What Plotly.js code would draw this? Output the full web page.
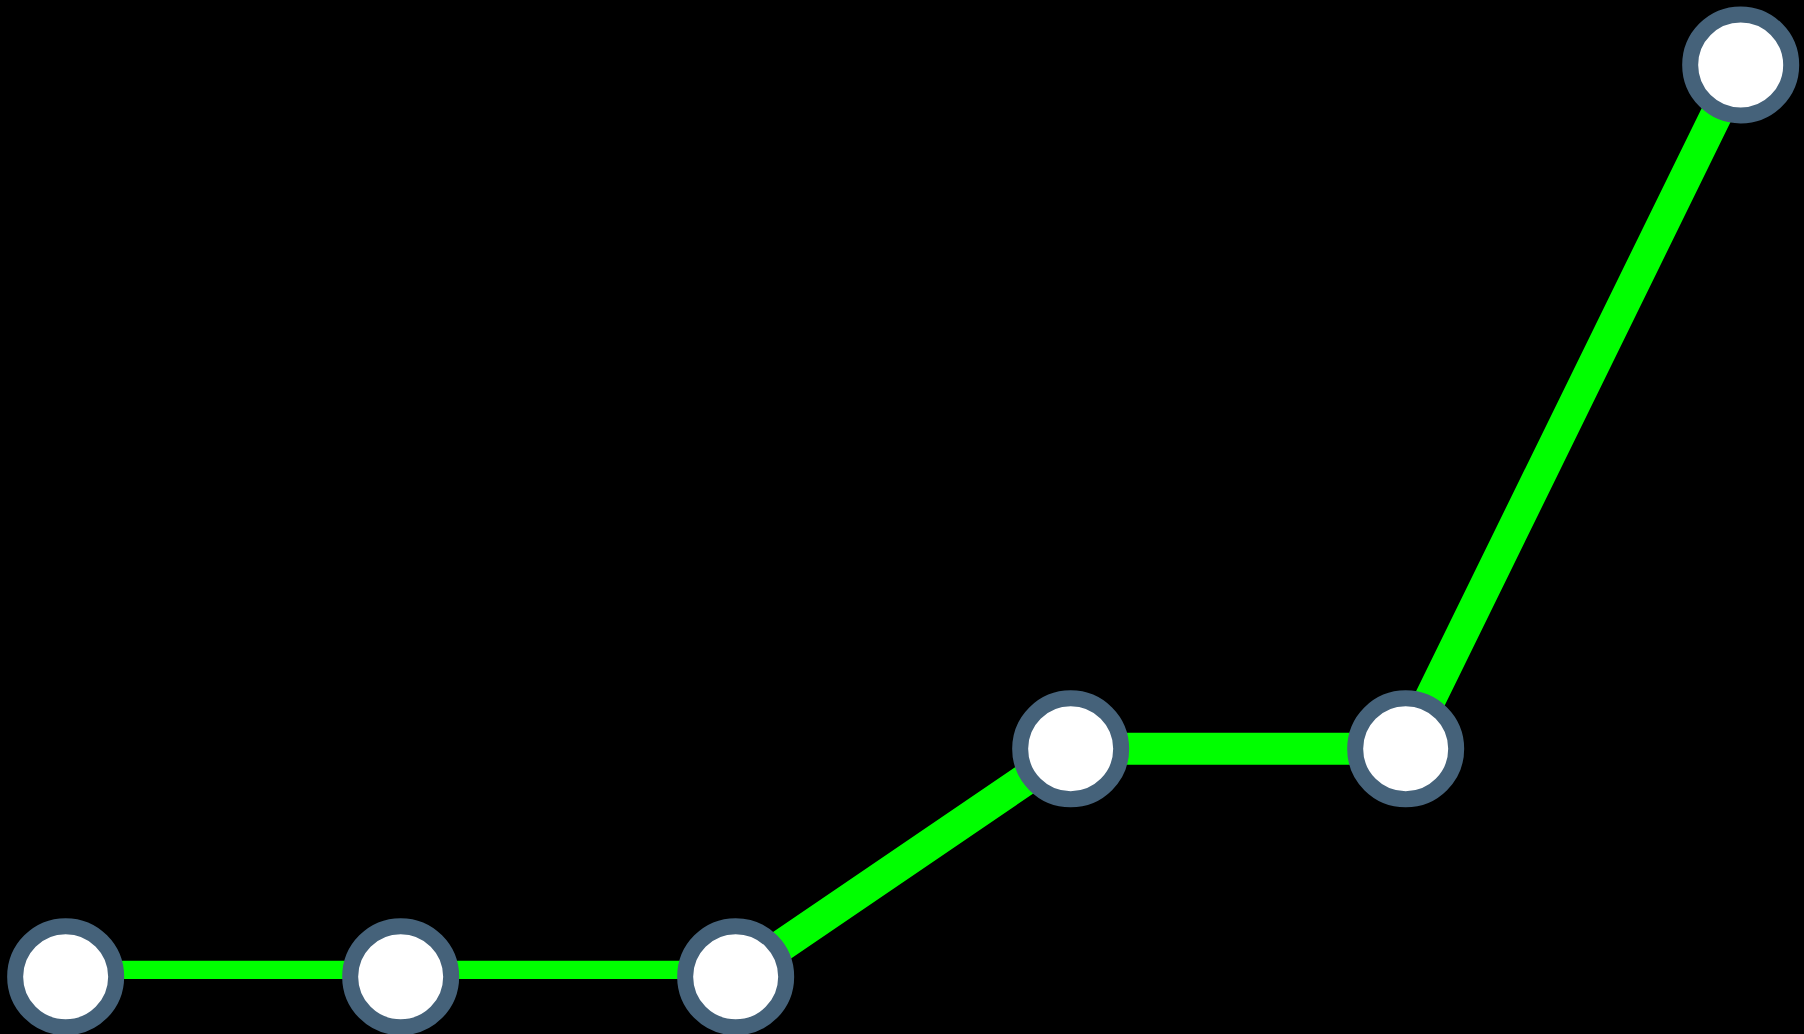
<!DOCTYPE html>
<html>
<head>
<meta charset="utf-8">
<script src="https://cdn.plot.ly/plotly-3.0.1.min.js"></script>
<style>
  html, body { margin: 0; padding: 0; background: #000; }
  #chart { width: 1804px; height: 1034px; }
</style>
</head>
<body>
<div id="chart"></div>
<script>
// data
const steps = [0, 1, 2, 3, 4, 5];
const values = [10, 10, 10, 20, 20, 50];

const lineColor = '#00ff00';
const markerFill = '#ffffff';
const markerEdge = '#45627a';

const trace = {
  x: steps,
  y: values,
  type: 'scatter',
  mode: 'lines+markers',
  cliponaxis: false,
  line: { color: lineColor, width: 32 },
  marker: {
    size: 101,
    color: markerFill,
    line: { color: markerEdge, width: 16 }
  },
  hoverinfo: 'none'
};

const hidden = {
  showgrid: false,
  zeroline: false,
  showline: false,
  showticklabels: false,
  ticks: ''
};

const layout = {
  width: 1804,
  height: 1034,
  margin: { l: 0, r: 0, t: 0, b: 55 },
  paper_bgcolor: '#000000',
  plot_bgcolor: '#000000',
  showlegend: false,
  xaxis: Object.assign({ range: [-0.196, 5.189] }, hidden),
  yaxis: Object.assign({ range: [9.899, 52.85] }, hidden)
};

Plotly.newPlot('chart', [trace], layout, { displayModeBar: false, staticPlot: true });
</script>
</body>
</html>
